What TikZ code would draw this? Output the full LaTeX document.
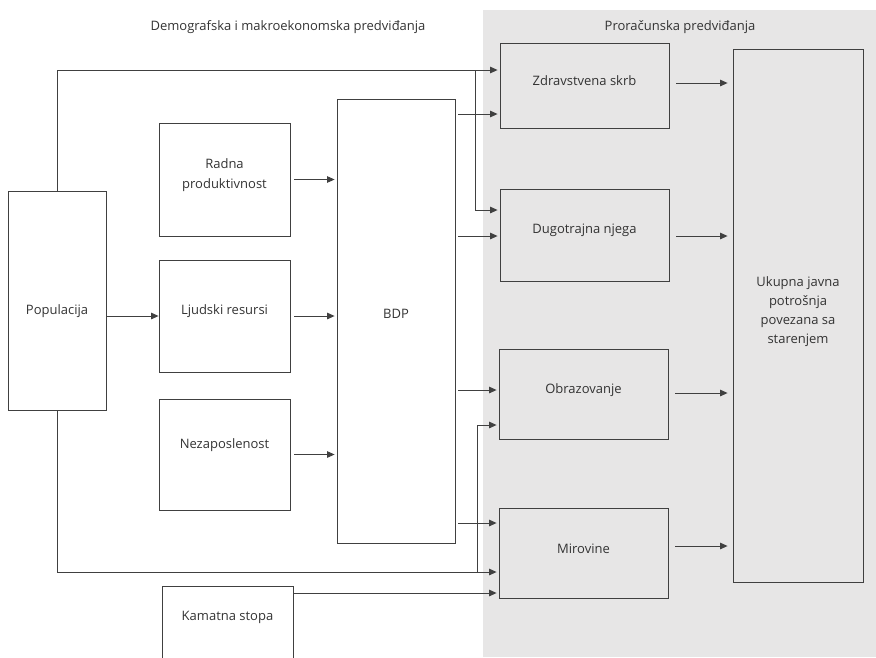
\documentclass[tikz,border=0pt]{standalone}
\usepackage{fontspec}
\setmainfont{Open Sans}
\usetikzlibrary{arrows.meta,positioning}
\definecolor{panelgray}{HTML}{E7E6E6}
\definecolor{edgegray}{HTML}{404040}
\definecolor{labelgray}{HTML}{333333}
\newcommand{\ProjectionFigureFont}{\fontsize{13pt}{20pt}\selectfont}
\newcommand{\ProjectionHeadFont}{\fontsize{13pt}{16pt}\selectfont}

\begin{document}
\begin{tikzpicture}[x=1pt,y=-1pt]
    \tikzset{
        projection flow/.style={-{Triangle[length=7.5pt,width=6.5pt]}, line width=0.9pt,
            draw=edgegray, shorten >=2pt},
        projection box/.style={draw=edgegray, line width=0.8pt, align=center,
            font=\ProjectionFigureFont, text=labelgray, inner sep=0pt},
        budget box/.style={projection box, fill=panelgray},
        text lift/.style={text height=9.5pt, text depth=#1}
    }
    \useasboundingbox (0,0) rectangle (876,657);
    \fill[panelgray] (483,10) rectangle (876,657);

    \node[font=\ProjectionHeadFont, text=labelgray] (demo-head) at (288,27) {Demografska i makroekonomska predviđanja};
    \node[font=\ProjectionHeadFont, text=labelgray] (budget-head) at (680,27) {Proračunska predviđanja};

    \node[projection box, minimum width=98pt, minimum height=219pt,
        text height=27pt, text depth=0pt] (pop) at (57,300.5) {Populacija};
    \node[projection box, minimum width=131pt, minimum height=113pt,
        text height=29.5pt, text depth=12.5pt] (radna) at (224.5,179.5) {Radna\\produktivnost};
    \node[projection box, minimum width=131pt, minimum height=112pt,
        text lift=13.5pt] (ljud) at (224.5,316) {Ljudski resursi};
    \node[projection box, minimum width=131pt, minimum height=111pt,
        text lift=22.5pt] (nezap) at (224.5,454.5) {Nezaposlenost};
    \node[projection box, minimum width=118pt, minimum height=444pt,
        text lift=15.5pt] (bdp) at (396,321) {BDP};
    \node[projection box, minimum width=131pt, minimum height=80pt,
        text lift=21.5pt] (kamat) at (227.5,626) {Kamatna stopa};

    \node[budget box, minimum width=169pt, minimum height=85pt,
        text lift=10.5pt] (zdrav) at (584.5,85.5) {Zdravstvena skrb};
    \node[budget box, minimum width=169pt, minimum height=92pt,
        text lift=13.5pt] (dugot) at (584.5,235) {Dugotrajna njega};
    \node[budget box, minimum width=169pt, minimum height=90pt,
        text lift=11.5pt] (obraz) at (583.5,394) {Obrazovanje};
    \node[budget box, minimum width=169pt, minimum height=90pt,
        text lift=9.5pt] (mirov) at (583.5,553) {Mirovine};
    \node[budget box, minimum width=130pt, minimum height=533pt,
        text height=65.6pt, text depth=10.6pt, font=\fontsize{13pt}{18.7pt}\selectfont]
        (ukup) at (798,315.5) {Ukupna javna\\potrošnja\\povezana sa\\starenjem};

    \coordinate (zdrav-top) at ([yshift=15.5pt]zdrav.west);
    \coordinate (zdrav-bdp) at ([yshift=-28.5pt]zdrav.west);
    \coordinate (dugot-top) at ([yshift=25pt]dugot.west);
    \coordinate (dugot-bdp) at ([yshift=-1pt]dugot.west);
    \coordinate (obraz-bdp) at ([yshift=4pt]obraz.west);
    \coordinate (obraz-low) at ([yshift=-31pt]obraz.west);
    \coordinate (mirov-bdp) at ([yshift=30pt]mirov.west);
    \coordinate (mirov-pop) at ([yshift=-19pt]mirov.west);
    \coordinate (mirov-rate) at ([yshift=-40pt]mirov.west);
    \coordinate (top-split) at ([xshift=-24pt]zdrav-top);
    \coordinate (low-split) at ([xshift=-21pt]mirov-pop);

    \draw[projection flow] (pop.north) |- (zdrav-top);
    \draw[projection flow] (top-split) |- (dugot-top);
    \draw[projection flow] (pop.south) |- (mirov-pop);
    \draw[projection flow] (low-split) |- (obraz-low);
    \draw[projection flow] (kamat.east |- mirov-rate) -- (mirov-rate);
    \draw[projection flow, shorten >=0pt] (pop.east |- ljud.west) -- (ljud.west);

    \foreach \target in {zdrav-bdp,dugot-bdp,obraz-bdp,mirov-bdp} {
        \draw[projection flow, shorten <=3pt] (bdp.east |- \target) -- (\target);
    }
    \foreach \source in {radna,ljud,nezap} {
        \draw[projection flow, shorten <=4pt] (\source.east) -- (bdp.west |- \source.east);
    }
    \foreach \source/\shift in {zdrav/2.5,dugot/-1,obraz/1,mirov/7} {
        \coordinate (\source-out) at ([yshift=\shift pt]\source.east);
        \draw[projection flow, shorten <=7pt, shorten >=5pt] (\source-out) -- (ukup.west |- \source-out);
    }
\end{tikzpicture}
\end{document}
